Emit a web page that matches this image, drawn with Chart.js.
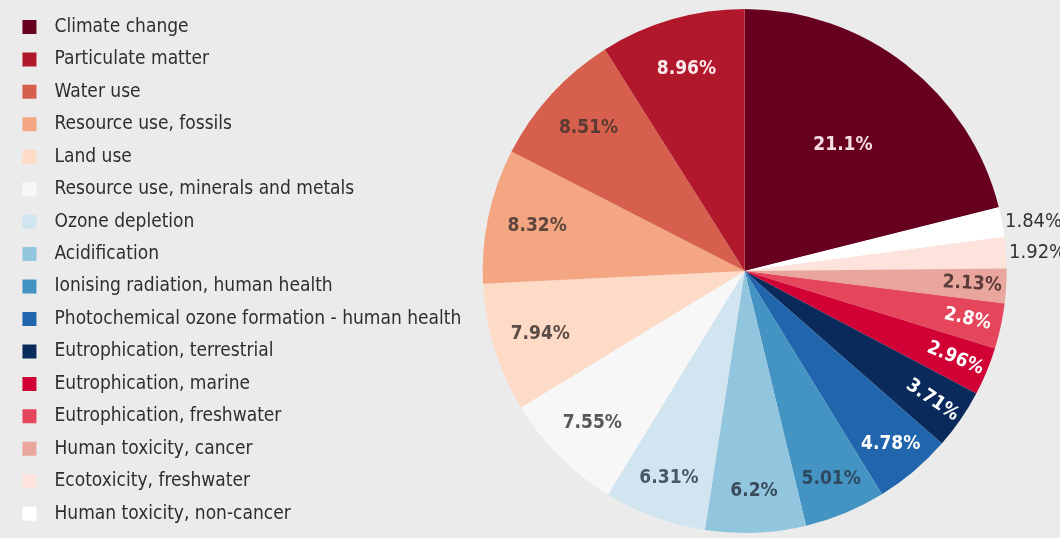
<!DOCTYPE html>
<html>
<head>
<meta charset="utf-8">
<script src="https://cdn.jsdelivr.net/npm/chart.js@4/dist/chart.umd.min.js"></script>
<style>
    body { margin: 0; background: #ebebeb; }
    #wrap { width: 1060px; height: 538px; }
</style>
</head>
<body>
<div id="wrap"><canvas id="impactChart" width="1060" height="538"></canvas></div>
<script>
// Slices in clockwise order, starting at 12 o'clock
const categories = [
    'Climate change',
    'Human toxicity, non-cancer',
    'Ecotoxicity, freshwater',
    'Human toxicity, cancer',
    'Eutrophication, freshwater',
    'Eutrophication, marine',
    'Eutrophication, terrestrial',
    'Photochemical ozone formation - human health',
    'Ionising radiation, human health',
    'Acidification',
    'Ozone depletion',
    'Resource use, minerals and metals',
    'Land use',
    'Resource use, fossils',
    'Water use',
    'Particulate matter'
];
const shares = [21.1, 1.84, 1.92, 2.13, 2.8, 2.96, 3.71, 4.78, 5.01, 6.2, 6.31, 7.55, 7.94, 8.32, 8.51, 8.96];

const sliceColors = [
    '#67001f', '#ffffff', '#fde3dc', '#e8a69d', '#e6465c', '#d10035', '#0b2a5c', '#2166ac',
    '#4393c3', '#92c5de', '#d1e5f0', '#f7f7f7', '#fddbc7', '#f4a582', '#d6604d', '#b2182b'
];
const labelColors = [
    '#f6dce4', '#333333', '#333333', '#5c3b3b', '#ffffff', '#ffffff', '#ffffff', '#ffffff',
    '#2e4860', '#3a4c5c', '#4a5866', '#585858', '#5a4c46', '#5e463c', '#5a3a32', '#fbe9ec'
];

const FONT = "'DejaVu Sans Condensed', 'Liberation Sans Narrow', sans-serif";

// legend lists climate change first, then the slices counter-clockwise
function legendKey(i) {
    return i === 0 ? 0 : categories.length - i;
}

// Percentage labels on the slices
const sliceLabels = {
    id: 'sliceLabels',
    afterDatasetsDraw(chart) {
        const ctx = chart.ctx;
        const meta = chart.getDatasetMeta(0);
        meta.data.forEach((arc, i) => {
            const p = arc.getProps(['x', 'y', 'startAngle', 'endAngle', 'outerRadius'], true);
            const mid = (p.startAngle + p.endAngle) / 2;
            const value = shares[i];
            const text = value + '%';
            ctx.save();
            ctx.fillStyle = labelColors[i];
            ctx.textBaseline = 'middle';
            if (value < 2) {
                // too thin, label sits outside
                ctx.font = '20px ' + FONT;
                ctx.textAlign = 'left';
                const r = p.outerRadius + 3;
                ctx.fillText(text, p.x + Math.cos(mid) * r, p.y + Math.sin(mid) * r);
            } else {
                ctx.font = 'bold 19px ' + FONT;
                ctx.textAlign = 'center';
                const frac = i === 0 ? 0.61 : Math.min(0.87, 0.8 + (9 - value) * 0.015);
                const r = p.outerRadius * frac;
                ctx.translate(p.x + Math.cos(mid) * r, p.y + Math.sin(mid) * r);
                if (value < 4) ctx.rotate(mid);
                ctx.fillText(text, 0, 0);
            }
            ctx.restore();
        });
    }
};

const defaultLabels = Chart.overrides.pie.plugins.legend.labels.generateLabels;

const ctx = document.getElementById('impactChart').getContext('2d');
window.impactChart = new Chart(ctx, {
    type: 'pie',
    data: {
        labels: categories,
        datasets: [{
            data: shares,
            backgroundColor: sliceColors,
            borderWidth: 0,
            radius: 262
        }]
    },
    options: {
        responsive: false,
        animation: false,
        layout: {
            padding: { top: 4, bottom: 0, left: 9, right: 42 }
        },
        plugins: {
            legend: {
                position: 'left',
                align: 'start',
                labels: {
                    boxWidth: 14,
                    boxHeight: 14,
                    padding: 13.45,
                    color: '#2e2e2e',
                    font: { family: FONT, size: 19 },
                    // a little extra gap between the swatch and the text
                    generateLabels: (chart) => defaultLabels(chart).map(item => {
                        item.text = '\u2002' + item.text;
                        return item;
                    }),
                    sort: (a, b) => legendKey(a.index) - legendKey(b.index)
                }
            },
            tooltip: { enabled: false }
        }
    },
    plugins: [sliceLabels]
});
</script>
</body>
</html>
